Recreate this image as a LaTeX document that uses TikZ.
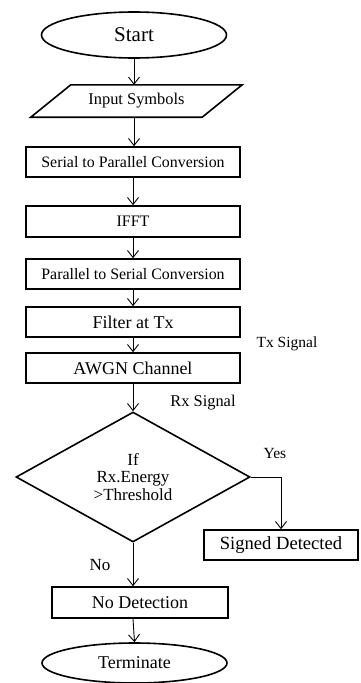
\documentclass[tikz,border=0pt]{standalone}
\usepackage{fontspec}
\setmainfont{Liberation Serif}
\usetikzlibrary{shapes.geometric,arrows.meta}

\begin{document}
\begin{tikzpicture}[x=1pt,y=-1pt,
  box/.style={draw,line width=1.6pt,rectangle,inner sep=0pt,minimum width=214pt,minimum height=30pt},
  term/.style={draw,line width=1.6pt,ellipse,inner sep=0pt,minimum width=185pt},
  flow/.style={line width=0.9pt,-{Straight Barb[length=7pt,width=11pt,line width=0.9pt]}},
  lbl/.style={font=\fontsize{15.5}{17}\selectfont}
]
\useasboundingbox (0,0) rectangle (360,683);

% terminators
\node[term,minimum height=46pt,font=\fontsize{21}{23}\selectfont] (start) at (134,35) {Start};
\node[term,minimum height=40pt,font=\fontsize{18}{20}\selectfont] (stop) at (134.5,663) {Terminate};

% input/output block (parallelogram drawn around a text node)
\node[inner sep=0pt,minimum width=171pt,minimum height=32pt,font=\fontsize{16.4}{18}\selectfont] (input) at (136.5,101) {Input Symbols};
\draw[line width=1.6pt] ([xshift=20pt]input.north west) -- ([xshift=20pt]input.north east)
  -- ([xshift=-20pt]input.south east) -- ([xshift=-20pt]input.south west) -- cycle;

% processing blocks
\node[box,font=\fontsize{15.9}{17}\selectfont] (s2p) at (133,162) {Serial to Parallel Conversion};
\node[box,minimum height=31pt,font=\fontsize{16}{18}\selectfont] (ifft) at (133,221.5) {IFFT};
\node[box,font=\fontsize{15.9}{17}\selectfont] (p2s) at (133,274) {Parallel to Serial Conversion};
\node[box,font=\fontsize{18}{20}\selectfont] (filt) at (133,322) {Filter at Tx};
\node[box,font=\fontsize{18}{20}\selectfont] (awgn) at (133,368) {AWGN Channel};

% decision
\node[draw,line width=1.6pt,diamond,inner sep=0pt,minimum width=234pt,minimum height=130pt,
  align=center,font=\fontsize{17}{17.5}\selectfont] (dec) at (133,477) {If\\Rx.Energy\\>Threshold};

% outcomes
\node[box,minimum width=154pt,font=\fontsize{18.6}{20}\selectfont] (sig) at (281,545) {Signed Detected};
\node[box,minimum width=176pt,minimum height=31pt,font=\fontsize{18}{20}\selectfont] (nodet) at (140,602.5) {No Detection};

% connectors
\draw[flow] (start.south) -- (start.south |- input.north);
\draw[flow] (start.south |- input.south) -- (start.south |- s2p.north);
\draw[flow] (s2p) -- (ifft);
\draw[flow] (ifft) -- (p2s);
\draw[flow] (p2s) -- (filt);
\draw[flow] (filt) -- (awgn);
\draw[flow] (awgn) -- (dec);
\draw[flow] (dec.east) -| (sig.north);
\draw[flow] (dec.south) -- (dec.south |- nodet.north);
\draw[flow] (dec.south |- nodet.south) -- (stop.north);

% signal and branch labels
\node[lbl] (txs) at (287,344) {Tx Signal};
\node[lbl,font=\fontsize{16.4}{18}\selectfont] (rxs) at (203,403) {Rx Signal};
\node[lbl] (yes) at (275,453) {Yes};
\node[lbl,font=\fontsize{17}{18}\selectfont] (no) at (100,565) {No};
\end{tikzpicture}
\end{document}
